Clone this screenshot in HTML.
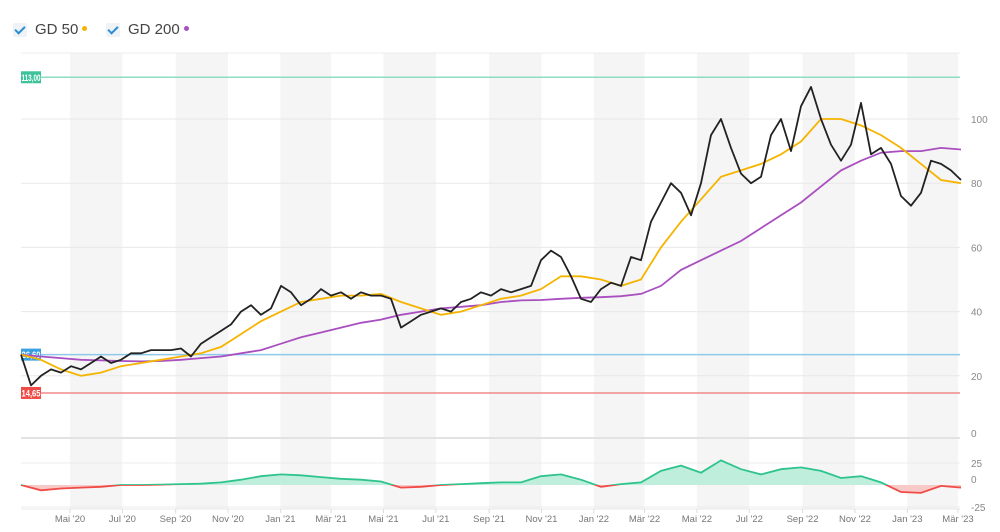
<!DOCTYPE html>
<html><head><meta charset="utf-8">
<style>
body{margin:0;background:#fff;font-family:"Liberation Sans",sans-serif;}
#wrap{position:relative;width:1000px;height:532px;overflow:hidden;}
.leg{position:absolute;top:21px;font-size:15px;color:#444;display:flex;align-items:center;}
.cb{width:14px;height:14px;background:#f0f3f6;border-radius:2px;margin-right:8px;position:relative;}
.cb:after{content:"";position:absolute;left:4px;top:1px;width:4px;height:8px;border:solid #2a8ed6;border-width:0 2px 2px 0;transform:rotate(45deg);}
.dot{width:5px;height:5px;border-radius:50%;margin-left:4px;margin-top:-3px;}
</style></head><body>
<div id="wrap">
<div class="leg" style="left:13px"><span class="cb"></span>GD 50<span class="dot" style="background:#f5b400"></span></div>
<div class="leg" style="left:106px"><span class="cb"></span>GD 200<span class="dot" style="background:#a94fc0"></span></div>
<svg id="svg" width="1000" height="532" style="position:absolute;left:0;top:0"></svg>
</div>
<script>
const monthLabels=["Mai '20","Jul '20","Sep '20","Nov '20","Jan '21","Mär '21","Mai '21","Jul '21","Sep '21","Nov '21","Jan '22","Mär '22","Mai '22","Jul '22","Sep '22","Nov '22","Jan '23","Mär '23"];
const monthDates=["2020-05-01","2020-07-01","2020-09-01","2020-11-01","2021-01-01","2021-03-01","2021-05-01","2021-07-01","2021-09-01","2021-11-01","2022-01-01","2022-03-01","2022-05-01","2022-07-01","2022-09-01","2022-11-01","2023-01-01","2023-03-01"];
const priceStart="2020-03-05";
const priceStepDays=11.644;
const price=[26.6,17,20,22,21,23,22,24,26,24,25,27,27,28,28,28,28.5,26,30,32,34,36,40,42,39,41,48,46,42,44,47,45,46,44,46,45,45,44,35,37,39,40,41,40,43,44,46,45,47,46,47,48,56,59,57,51,44,43,47,49,48,57,56,68,74,80,77,70,80,95,100,91,83,80,82,95,100,90,104,110,100,92,87,92,105,89,91,86,76,73,77,87,86,84,81];
const avgStepDays=23.288;
const gd50=[26.6,25,22,20,21,23,24,25,26,27,29,33,37,40,43,44,45,45,45.5,43,41,39,40,42,44,45,47,51,51,50,48,50,60,68,75,82,84,86,89,93,100,100,98,95,91,86,81,80];
const gd200=[26.6,26,25.5,25,24.8,24.6,24.5,24.6,25,25.5,26,27,28,30,32,33.5,35,36.5,37.5,39,40,41,41.5,42,43,43.5,43.6,44,44.3,44.5,44.8,45.5,48,53,56,59,62,66,70,74,79,84,87,89.5,90,90,91,90.5];
const osc=[0,-6,-4,-3,-2,0,0,0.5,1,1.5,3,6,10,12,11,9,7,6,4,-3,-2,0,1,2,3,3,10,12,6,-2,1,3,16,22,14,28,18,12,18,20,16,8,10,3,-8,-9,-1,-3];
const priceTicks=[0,20,40,60,80,100];
const oscTicks=[25,0,-25];
const levels=[113,26.6,14.65];
const levelLabels=["113,00","26,60","14,65"];
const levelColors=["#3dc29a","#3ba0e0","#ef4b47"];
const levelLine=["#8fdcc0","#8ec9ea","#f08a88"];

const NS="http://www.w3.org/2000/svg";
const svg=document.getElementById('svg');
function mk(t,a,p){const e=document.createElementNS(NS,t);for(const k in a)e.setAttribute(k,a[k]);(p||svg).appendChild(e);return e;}
const D0=Date.parse("2020-05-01"),D1=Date.parse("2023-03-01");
function xd(ms){return 70+(ms-D0)/(D1-D0)*(958-70);}
const S0=Date.parse(priceStart);
function xi(i,step){return xd(S0+i*step*864e5);}
function yP(v){return 440-3.21*v;}
function yO(v){return 485-0.88*v;}
const L=21,R=960;
// stripes
for(let i=0;i<monthDates.length-1;i+=2){
 const a=xd(Date.parse(monthDates[i])),b=xd(Date.parse(monthDates[i+1]));
 const r=mk('rect',{x:a,y:53,width:b-a,height:456,fill:'#f5f5f5'});
 
 
}
mk('line',{x1:L,x2:R,y1:53,y2:53,stroke:'#ececec'});
priceTicks.forEach(t=>{
 const y=yP(t);
 if(t>0){const g=mk('line',{x1:L,x2:R,y1:y,y2:y,stroke:'#e8e8e8'});
 }
 const tx=mk('text',{x:971,y:t===0?437:y+4,'font-size':10,fill:'#888','font-family':'Liberation Sans Narrow, Liberation Sans, sans-serif'});
 tx.textContent=t;
 
});
mk('line',{x1:L,x2:R,y1:438,y2:438,stroke:'#e2e2e2','stroke-width':2});
oscTicks.forEach(t=>{
 const y=yO(t);
 if(t!==0){const g=mk('line',{x1:L,x2:R,y1:y,y2:y,stroke:'#ececec'});
 }
 const tx=mk('text',{x:971,y:y+(t===0?-2:4),'font-size':10,fill:'#888'});
 tx.textContent=t;
 
});
mk('line',{x1:L,x2:R,y1:509,y2:509,stroke:'#e8e8e8'});
monthDates.forEach((d,i)=>{
 const x=xd(Date.parse(d));
 mk('line',{x1:x,x2:x,y1:509,y2:513,stroke:'#ddd'});
 const tx=mk('text',{x:x,y:522,'font-size':9.5,fill:'#777','text-anchor':'middle'});
 tx.textContent=monthLabels[i];
 
});
// level lines
levels.forEach((v,i)=>{
 const y=yP(v);
 const ln=mk('line',{x1:L,x2:R,y1:y,y2:y,stroke:levelLine[i],'stroke-width':1.5});
 
 mk('rect',{x:L,y:y-6,width:20,height:12,fill:levelColors[i]});
 const tx=mk('text',{x:L+10,y:y+3.5,'font-size':9,fill:'#fff','text-anchor':'middle','font-weight':'bold',textLength:19,lengthAdjust:'spacingAndGlyphs'});
 tx.textContent=levelLabels[i];
 
});
function path(arr,step,yf){return arr.map((v,i)=>(i?'L':'M')+xi(i,step).toFixed(1)+','+yf(v).toFixed(1)).join('');}
const p200=mk('path',{d:path(gd200,avgStepDays,yP),fill:'none',stroke:'#a94fc0','stroke-width':1.8});

const p50=mk('path',{d:path(gd50,avgStepDays,yP),fill:'none',stroke:'#f5b400','stroke-width':1.8});

const pp=mk('path',{d:path(price,priceStepDays,yP),fill:'none',stroke:'#222','stroke-width':1.8,'stroke-linejoin':'round'});

// oscillator
const defs=mk('defs',{});
const c1=mk('clipPath',{id:'above'},defs);mk('rect',{x:0,y:0,width:1000,height:yO(0)},c1);
const c2=mk('clipPath',{id:'below'},defs);mk('rect',{x:0,y:yO(0),width:1000,height:100},c2);
const od=path(osc,avgStepDays,yO);
const last=xi(osc.length-1,avgStepDays),first=xi(0,avgStepDays);
const area=od+'L'+last+','+yO(0)+'L'+first+','+yO(0)+'Z';
[['above','#bfeedd','#2fc48d'],['below','#f9c9c7','#ef4b47']].forEach(([c,f,s])=>{
 const g=mk('g',{'clip-path':'url(#'+c+')'});
 const a=mk('path',{d:area,fill:f,stroke:'none'},g);
 
 const l=mk('path',{d:od,fill:'none',stroke:s,'stroke-width':1.8},g);
 
});
</script>
</body></html>
